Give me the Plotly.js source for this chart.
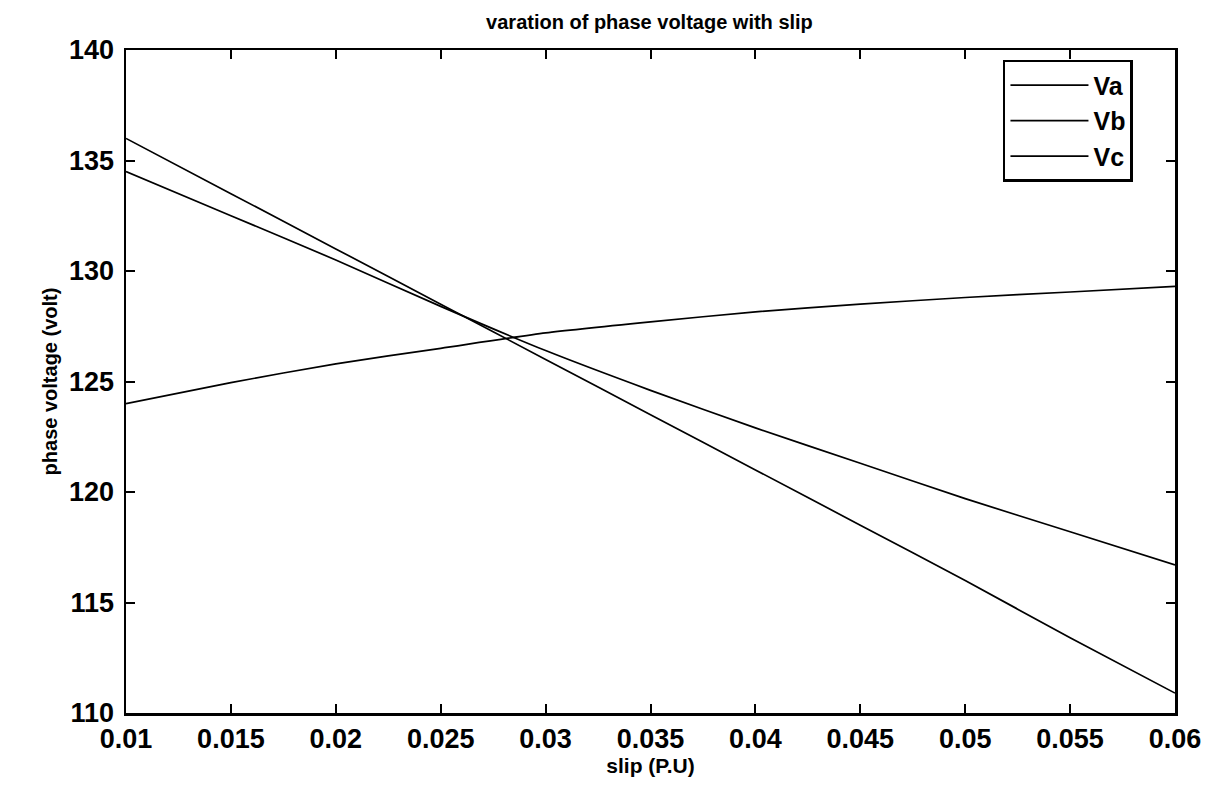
<!DOCTYPE html>
<html>
<head>
<meta charset="utf-8">
<script src="https://cdn.plot.ly/plotly-3.0.1.min.js"></script>
<style>html,body{margin:0;padding:0;background:#fff;}#chart{width:1214px;height:786px;}</style>
</head>
<body>
<div id="chart"></div>
<script>
const slip = [0.01, 0.015, 0.02, 0.025, 0.03, 0.035, 0.04, 0.045, 0.05, 0.055, 0.06];
const Va = [136.0, 133.5, 131.0, 128.5, 126.0, 123.5, 121.0, 118.5, 116.0, 113.4, 110.9];
const Vb = [134.5, 132.5, 130.5, 128.4, 126.4, 124.6, 122.9, 121.3, 119.7, 118.2, 116.7];
const Vc = [124.0, 124.95, 125.8, 126.5, 127.2, 127.7, 128.15, 128.5, 128.8, 129.05, 129.3];
const xTickVals = [0.01, 0.015, 0.02, 0.025, 0.03, 0.035, 0.04, 0.045, 0.05, 0.055, 0.06];
const xTickText = ['0.01', '0.015', '0.02', '0.025', '0.03', '0.035', '0.04', '0.045', '0.05', '0.055', '0.06'];
const yTickVals = [110, 115, 120, 125, 130, 135, 140];
const seriesNames = ['Va', 'Vb', 'Vc'];

const lineStyle = {color: '#000', width: 1.7, shape: 'spline', smoothing: 0.6};
const traces = [
  {x: slip, y: Va, name: seriesNames[0], mode: 'lines', line: lineStyle},
  {x: slip, y: Vb, name: seriesNames[1], mode: 'lines', line: lineStyle},
  {x: slip, y: Vc, name: seriesNames[2], mode: 'lines', line: lineStyle}
];
const font = 'Liberation Sans, Arial, sans-serif';
const axisCommon = {
  showline: true, linecolor: '#000', linewidth: 2.5, mirror: 'ticks',
  ticks: 'inside', ticklen: 9, tickwidth: 2, tickcolor: '#000',
  showgrid: false, zeroline: false
};
const layout = {
  width: 1214, height: 786,
  paper_bgcolor: '#fff', plot_bgcolor: '#fff',
  margin: {l: 126, r: 39, t: 50, b: 73},
  title: {text: 'varation of phase voltage with slip', font: {family: font, size: 20, color: '#000', weight: 'bold'},
          x: 0.535, xanchor: 'center', y: 0.972, yanchor: 'middle'},
  xaxis: Object.assign({}, axisCommon, {
    range: [0.01, 0.06], tickvals: xTickVals, ticktext: xTickText,
    tickfont: {family: font, size: 27, color: '#000', weight: 'bold'},
    title: {text: 'slip (P.U)', font: {family: font, size: 21, color: '#000', weight: 'bold'}, standoff: 2}
  }),
  yaxis: Object.assign({}, axisCommon, {
    range: [110, 140], tickvals: yTickVals, ticklabelstandoff: 4,
    tickfont: {family: font, size: 27, color: '#000', weight: 'bold'},
    title: {text: 'phase voltage (volt)', font: {family: font, size: 20, color: '#000', weight: 'bold'}, standoff: 6}
  }),
  showlegend: true,
  legend: {x: 0.836, y: 0.985, xanchor: 'left', yanchor: 'top',
           bgcolor: '#fff', bordercolor: '#000', borderwidth: 2.5,
           font: {family: font, size: 25, color: '#000', weight: 'bold'}, tracegroupgap: 0, itemwidth: 78}
};
Plotly.newPlot('chart', traces, layout, {displayModeBar: false, staticPlot: true});
</script>
</body>
</html>
